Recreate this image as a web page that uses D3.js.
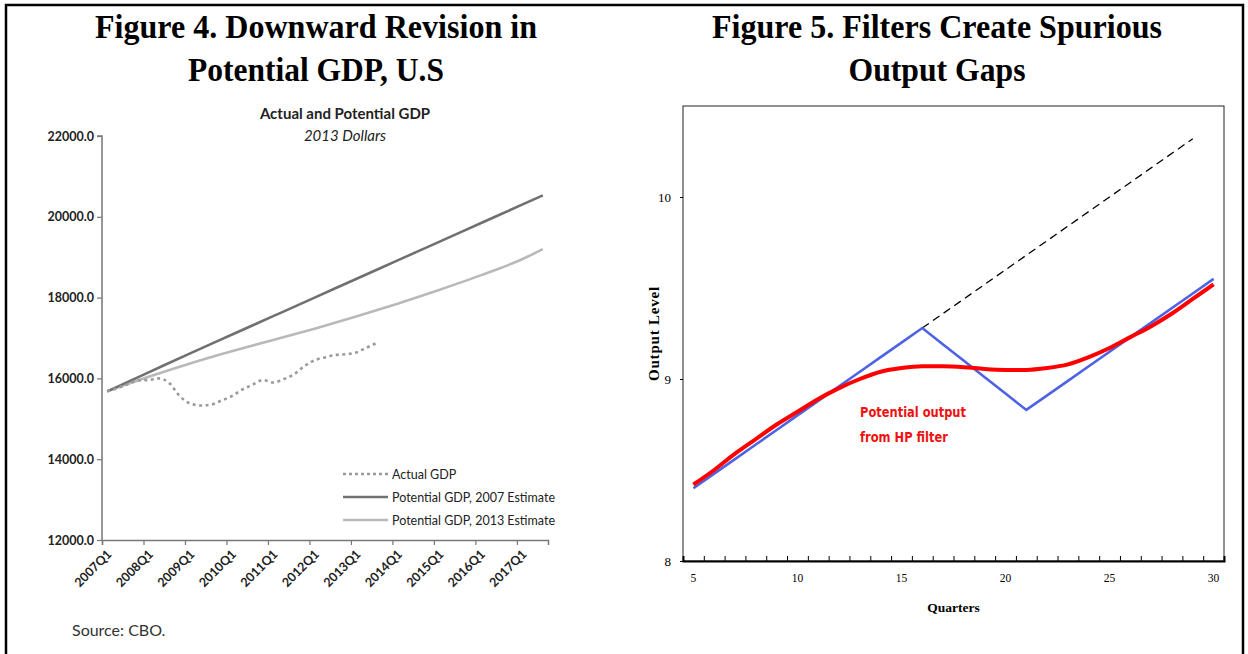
<!DOCTYPE html>
<html>
<head>
<meta charset="utf-8">
<script src="https://cdn.jsdelivr.net/npm/d3@7"></script>
<style>
  html, body { margin: 0; padding: 0; background: #fff; }
  svg { display: block; }
</style>
</head>
<body>
<svg id="chart" width="1248" height="654"></svg>
<script>
// Figure 4 data (CBO, 2013 dollars), quarter index 0 = 2007Q1
const gdpTickQuarters = [0, 4, 8, 12, 16, 20, 24, 28, 32, 36, 40]
const gdpTickLabels = ['2007Q1', '2008Q1', '2009Q1', '2010Q1', '2011Q1', '2012Q1',
  '2013Q1', '2014Q1', '2015Q1', '2016Q1', '2017Q1']
const gdpYTicks = [12000, 14000, 16000, 18000, 20000, 22000]
// actual GDP, quarterly from 2007Q1 to 2013Q3
const actualGdp = [15680, 15760, 15860, 15950, 15960, 16000, 15880, 15560,
  15380, 15330, 15350, 15450, 15560, 15720, 15840, 15960,
  15900, 15980, 16100, 16300, 16450, 16520, 16580, 16600,
  16640, 16760, 16880]
// potential GDP, read at each Q1 and at the last quarter
const potentialQuarters = [0, 4, 8, 12, 16, 20, 24, 28, 32, 36, 40, 42]
const potential2007 = [15680, 16150, 16620, 17080, 17540, 18000, 18460, 18920, 19380, 19840, 20300, 20530]
const potential2013 = [15680, 16040, 16370, 16670, 16950, 17230, 17530, 17850, 18190, 18550, 18950, 19200]

// Figure 5 data
const quarters = [5, 6, 7, 8, 9, 10, 11, 12, 13, 14, 15, 16, 17, 18, 19, 20,
  21, 22, 23, 24, 25, 26, 27, 28, 29, 30]
const outputLevel = [8.40, 8.48, 8.56, 8.64, 8.72, 8.80, 8.88, 8.96, 9.04, 9.12, 9.20, 9.28,
  9.19, 9.10, 9.01, 8.92, 8.83, 8.91, 8.99, 9.07, 9.15, 9.23, 9.31, 9.39, 9.47, 9.55]
const hpTrend = [8.42, 8.50, 8.59, 8.67, 8.75, 8.82, 8.89, 8.95, 9.00, 9.04, 9.06, 9.07,
  9.07, 9.065, 9.055, 9.05, 9.05, 9.06, 9.08, 9.12, 9.17, 9.23, 9.29, 9.36, 9.44, 9.52]
const trendQuarters = [16, 17, 18, 19, 20, 21, 22, 23, 24, 25, 26, 27, 28, 29]
const trendOutput = [9.28, 9.36, 9.44, 9.52, 9.60, 9.68, 9.76, 9.84, 9.92, 10.00, 10.08, 10.16, 10.24, 10.32]
const outputYTicks = [8, 9, 10]
const quarterLabels = [5, 10, 15, 20, 25, 30]

const svg = d3.select('#chart')
const serif = '"Liberation Serif", "Times New Roman", serif'
const sans = 'Lato, "Noto Sans", sans-serif'

// outer frame
svg.append('path')
  .attr('d', 'M6,660 V5 H1243 V660')
  .attr('fill', 'none')
  .attr('stroke', '#000')
  .attr('stroke-width', 2.5)

// figure titles (the original type is a narrow bold Times)
function addTitle (x, lines) {
  lines.forEach((t, i) => {
    svg.append('text')
      .attr('x', x - t.w / 2)
      .attr('y', 38 + i * 43)
      .attr('font-family', serif)
      .attr('font-weight', 'bold')
      .attr('font-size', 33)
      .attr('fill', '#000')
      .attr('textLength', t.w)
      .attr('lengthAdjust', 'spacingAndGlyphs')
      .text(t.text)
  })
}
addTitle(316, [{ text: 'Figure 4. Downward Revision in', w: 442 }, { text: 'Potential GDP, U.S', w: 256 }])
addTitle(937, [{ text: 'Figure 5. Filters Create Spurious', w: 450 }, { text: 'Output Gaps', w: 177 }])

// ---------- Figure 4 ----------
const gL = svg.append('g')
const xL = d3.scaleLinear().domain([0, 43]).range([102, 548])
const yL = d3.scaleLinear().domain([12000, 22000]).range([540, 136])

gL.append('text')
  .attr('x', 345).attr('y', 119)
  .attr('text-anchor', 'middle')
  .attr('font-family', sans).attr('font-weight', 'bold').attr('font-size', 15)
  .attr('fill', '#222')
  .text('Actual and Potential GDP')
gL.append('text')
  .attr('x', 345).attr('y', 141)
  .attr('text-anchor', 'middle')
  .attr('font-family', sans).attr('font-style', 'italic').attr('font-size', 15)
  .attr('fill', '#222')
  .text('2013 Dollars')

const yAxisL = gL.append('g')
  .attr('transform', `translate(${xL(0)},0)`)
  .call(d3.axisLeft(yL).tickValues(gdpYTicks).tickFormat(d3.format('.1f')).tickSize(5).tickPadding(3))
const xAxisL = gL.append('g')
  .attr('transform', `translate(0,${yL(12000)})`)
  .call(d3.axisBottom(xL).tickValues(gdpTickQuarters).tickFormat((d, i) => gdpTickLabels[i]).tickSize(5))

;[yAxisL, xAxisL].forEach(a => {
  a.select('.domain').attr('stroke', '#777').attr('stroke-width', 1.5)
  a.selectAll('.tick line').attr('stroke', '#777').attr('stroke-width', 1.2)
  a.selectAll('text')
    .attr('font-family', sans).attr('font-weight', 'bold')
    .attr('font-size', 12.5).attr('fill', '#222')
})
yAxisL.select('.domain').attr('d', `M-5,${yL(22000)}H0V${yL(12000)}`)
xAxisL.selectAll('text')
  .attr('text-anchor', 'end')
  .attr('dy', null)
  .attr('y', 0)
  .attr('transform', 'translate(10,15) rotate(-45)')

const lineL = d3.line()
  .x(d => xL(d[0] + 0.5))
  .y(d => yL(d[1]))
  .curve(d3.curveMonotoneX)

gL.append('path')
  .datum(potentialQuarters.map((q, i) => [q, potential2013[i]]))
  .attr('d', lineL)
  .attr('fill', 'none').attr('stroke', '#b9b9b9').attr('stroke-width', 2.6)
gL.append('path')
  .datum(potentialQuarters.map((q, i) => [q, potential2007[i]]))
  .attr('d', lineL)
  .attr('fill', 'none').attr('stroke', '#707070').attr('stroke-width', 2.6)
gL.append('path')
  .datum(actualGdp.map((v, i) => [i, v]))
  .attr('d', lineL)
  .attr('fill', 'none').attr('stroke', '#9a9a9a').attr('stroke-width', 2.6)
  .attr('stroke-dasharray', '3,3.5')

// legend
const legendItems = [
  { name: 'Actual GDP', color: '#9a9a9a', dash: '3,3' },
  { name: 'Potential GDP, 2007 Estimate', color: '#707070', dash: null },
  { name: 'Potential GDP, 2013 Estimate', color: '#b9b9b9', dash: null }
]
const leg = gL.selectAll('.legend')
  .data(legendItems)
  .enter()
  .append('g')
  .attr('class', 'legend')
  .attr('transform', (d, i) => `translate(343,${474 + i * 23})`)
leg.append('line')
  .attr('x1', 0).attr('x2', 45)
  .attr('stroke', d => d.color).attr('stroke-width', 2.6)
  .attr('stroke-dasharray', d => d.dash)
leg.append('text')
  .attr('x', 49).attr('y', 5)
  .attr('font-family', sans).attr('font-size', 12.5).attr('fill', '#222')
  .text(d => d.name)

gL.append('text')
  .attr('x', 72).attr('y', 636)
  .attr('font-family', sans).attr('font-size', 16).attr('fill', '#333')
  .text('Source: CBO.')

// ---------- Figure 5 ----------
const gR = svg.append('g')
const xR = d3.scaleLinear().domain([4.5, 30.5]).range([683, 1224])
const yR = d3.scaleLinear().domain([8, 10.5]).range([561, 106])

// plot frame
gR.append('rect')
  .attr('x', xR(4.5)).attr('y', yR(10.5))
  .attr('width', xR(30.5) - xR(4.5)).attr('height', yR(8) - yR(10.5))
  .attr('fill', 'none').attr('stroke', '#222').attr('stroke-width', 1)

const xAxisR = gR.append('g')
  .attr('transform', `translate(0,${yR(8)})`)
  .call(d3.axisBottom(xR).tickValues(d3.range(5.5, 30.5, 1)).tickSize(-5).tickFormat(''))
xAxisR.select('.domain').attr('stroke', '#000').attr('stroke-width', 2)
xAxisR.selectAll('.tick line').attr('stroke', '#000').attr('stroke-width', 1)

gR.append('g')
  .selectAll('text')
  .data(quarterLabels)
  .enter()
  .append('text')
  .attr('x', d => xR(d))
  .attr('y', yR(8) + 21)
  .attr('text-anchor', 'middle')
  .attr('font-family', serif).attr('font-size', 11.5).attr('fill', '#000')
  .text(d => d)

const yAxisR = gR.append('g')
  .attr('transform', `translate(${xR(4.5)},0)`)
  .call(d3.axisLeft(yR).tickValues(outputYTicks).tickFormat(d3.format('d')).tickSize(3).tickPadding(9))
yAxisR.select('.domain').remove()
yAxisR.selectAll('.tick line').attr('stroke', '#000')
yAxisR.selectAll('text')
  .attr('font-family', serif).attr('font-size', 13).attr('fill', '#000')

gR.append('text')
  .attr('transform', `translate(659,${(yR(8) + yR(10.5)) / 2}) rotate(-90)`)
  .attr('text-anchor', 'middle')
  .attr('font-family', serif).attr('font-weight', 'bold').attr('font-size', 15)
  .attr('letter-spacing', 0.8)
  .text('Output Level')
gR.append('text')
  .attr('x', (xR(4.5) + xR(30.5)) / 2).attr('y', 612)
  .attr('text-anchor', 'middle')
  .attr('font-family', serif).attr('font-weight', 'bold').attr('font-size', 13.5)
  .text('Quarters')

const lineR = d3.line().x(d => xR(d[0])).y(d => yR(d[1]))

gR.append('path')
  .datum(trendQuarters.map((q, i) => [q, trendOutput[i]]))
  .attr('d', lineR)
  .attr('fill', 'none').attr('stroke', '#000').attr('stroke-width', 1.3)
  .attr('stroke-dasharray', '8,5')
gR.append('path')
  .datum(quarters.map((q, i) => [q, outputLevel[i]]))
  .attr('d', lineR)
  .attr('fill', 'none').attr('stroke', '#4d63e3').attr('stroke-width', 2.6)
gR.append('path')
  .datum(quarters.map((q, i) => [q, hpTrend[i]]))
  .attr('d', lineR.curve(d3.curveMonotoneX))
  .attr('fill', 'none').attr('stroke', '#ff0000').attr('stroke-width', 4)

const hpLabel = gR.append('text')
  .attr('font-family', '"Liberation Sans Narrow", "DejaVu Sans Condensed", sans-serif')
  .attr('font-weight', 'bold').attr('font-size', 14.5).attr('fill', '#ee1111')
hpLabel.append('tspan').attr('x', 860).attr('y', 417)
  .attr('textLength', 106).attr('lengthAdjust', 'spacingAndGlyphs').text('Potential output')
hpLabel.append('tspan').attr('x', 860).attr('y', 442)
  .attr('textLength', 88).attr('lengthAdjust', 'spacingAndGlyphs').text('from HP filter')
</script>
</body>
</html>
